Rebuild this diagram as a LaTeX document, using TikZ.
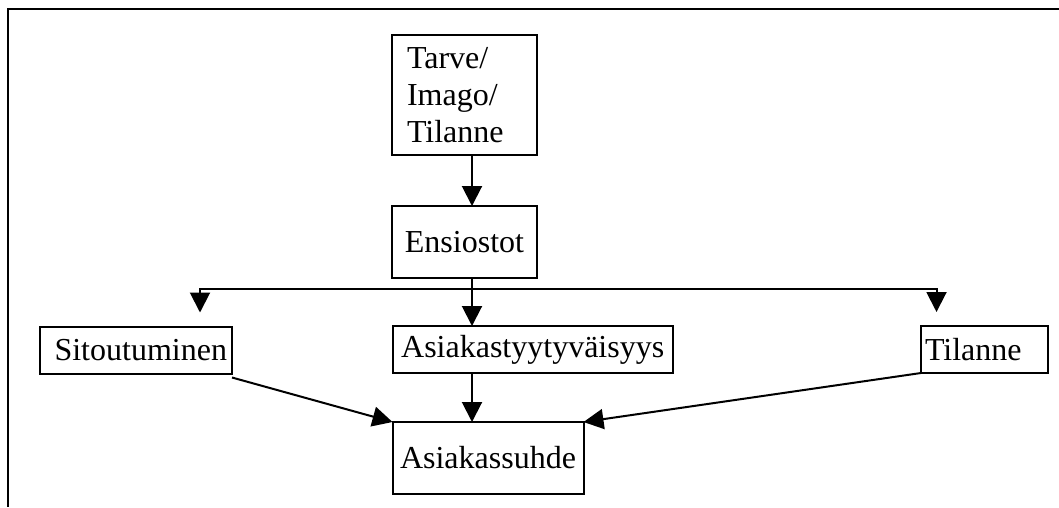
\documentclass[tikz,border=0pt]{standalone}
\usepackage{fontspec}
\setmainfont{Liberation Serif}
\usetikzlibrary{arrows.meta}
\begin{document}
\begin{tikzpicture}[x=1pt, y=-1pt, line width=2pt,
  every node/.style={draw, rectangle, line width=2pt, inner sep=0pt, outer sep=0pt, font=\fontsize{32pt}{37pt}\selectfont},
  arr/.style={-{Triangle[length=20pt,width=20pt]}}]
\useasboundingbox (0,0) rectangle (1059,507);
\draw[line width=2.5pt] (1059,9) -- (8,9) -- (8,507);
\node[minimum width=145pt, minimum height=120pt, text width=115pt, align=left] (tarve) at (464.5,95) {Tarve/\\Imago/\\Tilanne};
\node[minimum width=145pt, minimum height=72pt] (ens) at (464.5,242) {Ensiostot};
\node[minimum width=192pt, minimum height=47pt, text width=182pt, align=right] (sit) at (136,350) {Sitoutuminen};
\node[minimum width=280pt, minimum height=47pt] (tyyt) at (532.7,349.5) {Asiakastyytyväisyys};
\node[minimum width=127pt, minimum height=47pt, text width=119pt, align=left] (til) at (984.5,349.5) {Tilanne};
\node[minimum width=191pt, minimum height=72pt] (suhde) at (488,458) {Asiakassuhde};
\coordinate (bus) at (472,289);
\draw[arr] (tarve.south -| bus) -- (ens.north -| bus);
\draw (ens.south -| bus) -- (bus);
\draw[arr, shorten >=14pt] (bus) -| ([xshift=-32pt]sit.north east);
\draw[arr, shorten >=14pt] (bus) -| ([xshift=15.5pt]til.north west);
\draw[arr] (bus) -- (tyyt.north -| bus);
\draw[arr] (tyyt.south -| bus) -- (suhde.north -| bus);
\draw[arr] ([yshift=-4pt]sit.south east) -- (suhde.north west);
\draw[arr] (til.south west) -- (suhde.north east);
\end{tikzpicture}
\end{document}
